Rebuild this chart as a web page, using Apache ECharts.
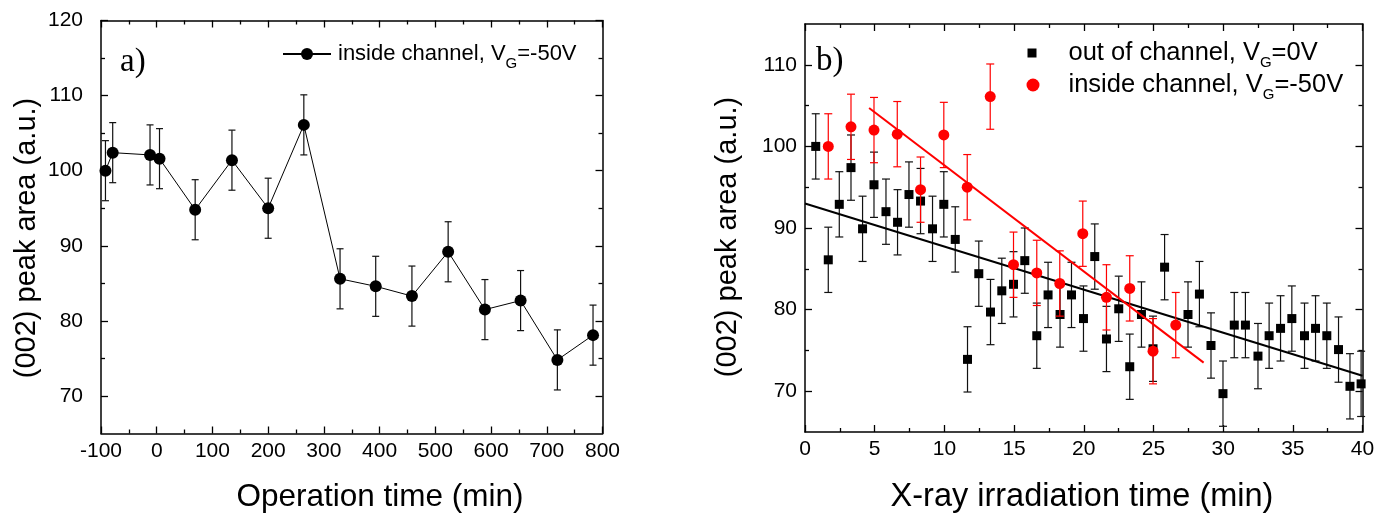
<!DOCTYPE html>
<html>
<head>
<meta charset="utf-8">
<script src="https://cdn.jsdelivr.net/npm/echarts@6/dist/echarts.min.js"></script>
<style>
html,body{margin:0;padding:0;background:#fff;}
#c{width:1393px;height:514px;}
</style>
</head>
<body>
<div id="c"></div>
<script>
// ---------- Panel a) data ----------
const opTime   = [-92, -79, -12, 5, 69, 135, 200, 264, 329, 393, 458, 523, 589, 653, 719, 783];
const insideA  = [100.0, 102.4, 102.1, 101.6, 94.8, 101.4, 95.0, 106.1, 85.6, 84.6, 83.3, 89.2, 81.5, 82.7, 74.8, 78.1];
const insideAErr = [4.0, 4.0, 4.0, 4.0, 4.0, 4.0, 4.0, 4.0, 4.0, 4.0, 4.0, 4.0, 4.0, 4.0, 4.0, 4.0];

// ---------- Panel b) data ----------
const outTime = [0.77, 1.67, 2.46, 3.30, 4.13, 4.95, 5.81, 6.64, 7.46, 8.29, 9.15, 9.96, 10.78, 11.66, 12.47,
  13.31, 14.12, 14.96, 15.77, 16.63, 17.44, 18.30, 19.12, 19.98, 20.79, 21.63, 22.51, 23.30, 24.14, 24.97,
  25.80, 27.48, 28.30, 29.13, 29.99, 30.80, 31.60, 32.50, 33.30, 34.12, 34.93, 35.84, 36.63, 37.44, 38.28, 39.10, 39.90];
const outVal = [100.0, 86.1, 92.9, 97.4, 89.9, 95.3, 92.0, 90.7, 94.1, 93.3, 89.9, 92.9, 88.6, 73.9, 84.4,
  79.7, 82.3, 83.1, 86.0, 76.8, 81.8, 79.4, 81.8, 78.9, 86.5, 76.4, 80.1, 73.0, 79.4, 75.2,
  85.2, 79.4, 81.9, 75.6, 69.7, 78.1, 78.1, 74.3, 76.8, 77.7, 78.9, 76.8, 77.7, 76.8, 75.1, 70.6, 70.9];
const outErr = [4, 4, 4, 4, 4, 4, 4, 4, 4, 4, 4, 4, 4, 4, 4, 4, 4, 4, 4, 4, 4, 4, 4, 4, 4, 4, 4, 4, 4, 4,
  4, 4, 4, 4, 4, 4, 4, 4, 4, 4, 4, 4, 4, 4, 4, 4, 4];
const inTime = [1.67, 3.30, 4.95, 6.62, 8.29, 9.96, 11.64, 13.29, 14.96, 16.63, 18.28, 19.93, 21.63, 23.30, 24.97, 26.60];
const inVal  = [100.0, 102.4, 102.0, 101.5, 94.7, 101.4, 95.0, 106.1, 85.5, 84.5, 83.2, 89.3, 81.5, 82.6, 74.9, 78.1];
const inErr  = [4, 4, 4, 4, 4, 4, 4, 4, 4, 4, 4, 4, 4, 4, 4, 4];

// linear fits (end points)
const fitOutX = [0, 40];
const fitOutY = [93.0, 71.9];
const fitInX  = [4.6, 28.6];
const fitInY  = [104.7, 73.5];

// tick labels
const yTicksA = [70, 80, 90, 100, 110, 120];
const yMinorA = [75, 85, 95, 105, 115];
const yTicksB = [70, 80, 90, 100, 110];
const yMinorB = [75, 85, 95, 105];

// ---------- helpers ----------
const FONT = 'Liberation Sans, Arial, sans-serif';
const zip2 = (a, b) => a.map((v, i) => [v, b[i]]);
const zip3 = (a, b, c) => a.map((v, i) => [v, b[i], c[i]]);

function errRender(color, cap) {
  return function (params, api) {
    const x = api.value(0), y = api.value(1), e = api.value(2);
    const t = api.coord([x, y + e]);
    const b = api.coord([x, y - e]);
    const st = { stroke: color, lineWidth: 1.2 };
    return {
      type: 'group',
      children: [
        { type: 'line', shape: { x1: t[0], y1: t[1], x2: b[0], y2: b[1] }, style: st },
        { type: 'line', shape: { x1: t[0] - cap, y1: t[1], x2: t[0] + cap, y2: t[1] }, style: st },
        { type: 'line', shape: { x1: b[0] - cap, y1: b[1], x2: b[0] + cap, y2: b[1] }, style: st }
      ]
    };
  };
}

const lineSt = { show: true, onZero: false, lineStyle: { color: '#000', width: 1.5 } };
function xAx(grid, pos, min, max, interval, labels) {
  return {
    type: 'value', gridIndex: grid, position: pos, min: min, max: max, interval: interval,
    axisLine: lineSt,
    axisTick: { show: true, inside: true, length: 7, lineStyle: { color: '#000', width: 1.3 } },
    minorTick: { show: true, splitNumber: 2, length: 4, lineStyle: { color: '#000', width: 1.3 } },
    axisLabel: { show: labels, color: '#000', fontSize: 21, fontFamily: FONT, margin: 7 },
    splitLine: { show: false }, minorSplitLine: { show: false }
  };
}
function yAx(grid, pos, min, max, ticks, major, labels, margin) {
  return {
    type: 'value', gridIndex: grid, position: pos, min: min, max: max,
    axisLine: major ? lineSt : { show: false, onZero: false },
    axisTick: { show: true, inside: true, length: major ? 7 : 4, customValues: ticks,
      lineStyle: { color: '#000', width: 1.3 } },
    axisLabel: { show: labels, customValues: ticks, color: '#000', fontSize: 21, fontFamily: FONT, margin: margin || 8 },
    splitLine: { show: false }
  };
}

const chart = echarts.init(document.getElementById('c'), null, { renderer: 'canvas' });

const rich = {
  s: { fontSize: 15, fontFamily: FONT, color: '#000', padding: [20, 0, 0, 0] }
};

const option = {
  backgroundColor: '#fff',
  animation: false,
  grid: [
    { left: 101, top: 20.5, width: 501.5, height: 413 },
    { left: 805, top: 24, width: 557.5, height: 408 }
  ],
  xAxis: [
    xAx(0, 'bottom', -100, 800, 100, true),
    xAx(0, 'top', -100, 800, 100, false),
    xAx(1, 'bottom', 0, 40, 5, true),
    xAx(1, 'top', 0, 40, 5, false)
  ],
  yAxis: [
    yAx(0, 'left', 65, 120, yTicksA, true, true, 18),
    yAx(0, 'right', 65, 120, yTicksA, true, false),
    yAx(0, 'left', 65, 120, yMinorA, false, false),
    yAx(0, 'right', 65, 120, yMinorA, false, false),
    yAx(1, 'left', 65, 115, yTicksB, true, true, 8),
    yAx(1, 'right', 65, 115, yTicksB, true, false),
    yAx(1, 'left', 65, 115, yMinorB, false, false),
    yAx(1, 'right', 65, 115, yMinorB, false, false)
  ],
  legend: [
    {
      data: ['insideA'], left: 282, top: 43, padding: 0, itemWidth: 48, itemHeight: 15, itemGap: 0,
      textStyle: { fontSize: 22, fontFamily: FONT, color: '#000', rich: rich, padding: [0, 0, 0, 2] },
      formatter: () => 'inside channel, V{s|G}=-50V'
    },
    {
      data: ['outB'], left: 1027.5, top: 40, padding: 0, itemWidth: 9, itemHeight: 9,
      textStyle: { fontSize: 25.5, fontFamily: FONT, color: '#000', rich: rich, padding: [0, 0, 0, 27] },
      formatter: () => 'out of channel, V{s|G}=0V'
    },
    {
      data: ['inB'], left: 1026.5, top: 72, padding: 0, itemWidth: 13, itemHeight: 13,
      textStyle: { fontSize: 25.5, fontFamily: FONT, color: '#000', rich: rich, padding: [0, 0, 0, 24] },
      formatter: () => 'inside channel, V{s|G}=-50V'
    }
  ],
  graphic: [
    { type: 'text', x: 120, y: 62, style: { text: 'a)', font: '33px "Liberation Serif", "Times New Roman", serif', fill: '#000', verticalAlign: 'middle' } },
    { type: 'text', x: 816, y: 61, style: { text: 'b)', font: '33px "Liberation Serif", "Times New Roman", serif', fill: '#000', verticalAlign: 'middle' } },
    { type: 'text', x: 380, y: 497, style: { text: 'Operation time (min)', font: '31.5px ' + FONT, fill: '#000', align: 'center', verticalAlign: 'middle' } },
    { type: 'text', x: 1082, y: 497, style: { text: 'X-ray irradiation time (min)', font: '32.5px ' + FONT, fill: '#000', align: 'center', verticalAlign: 'middle' } },
    { type: 'text', x: 27, y: 238, rotation: Math.PI / 2, style: { text: '(002) peak area (a.u.)', font: '29px ' + FONT, fill: '#000', align: 'center', verticalAlign: 'middle' } },
    { type: 'text', x: 728, y: 237, rotation: Math.PI / 2, style: { text: '(002) peak area (a.u.)', font: '29px ' + FONT, fill: '#000', align: 'center', verticalAlign: 'middle' } }
  ],
  series: [
    // panel a
    {
      type: 'custom', name: 'errA', xAxisIndex: 0, yAxisIndex: 0, z: 2,
      data: zip3(opTime, insideA, insideAErr), renderItem: errRender('#111', 3.5)
    },
    {
      type: 'line', name: 'insideA', xAxisIndex: 0, yAxisIndex: 0, z: 3,
      data: zip2(opTime, insideA), symbol: 'circle', symbolSize: 12,
      itemStyle: { color: '#000' }, lineStyle: { color: '#000', width: 1 }
    },
    // panel b
    {
      type: 'custom', name: 'errOut', xAxisIndex: 2, yAxisIndex: 4, z: 2,
      data: zip3(outTime, outVal, outErr), renderItem: errRender('#111', 4)
    },
    {
      type: 'line', name: 'fitOut', xAxisIndex: 2, yAxisIndex: 4, z: 3,
      data: zip2(fitOutX, fitOutY), symbol: 'none', lineStyle: { color: '#000', width: 2 }
    },
    {
      type: 'scatter', name: 'outB', xAxisIndex: 2, yAxisIndex: 4, z: 4,
      data: zip2(outTime, outVal), symbol: 'rect', symbolSize: 9, itemStyle: { color: '#000', opacity: 1 }
    },
    {
      type: 'custom', name: 'errIn', xAxisIndex: 2, yAxisIndex: 4, z: 5,
      data: zip3(inTime, inVal, inErr), renderItem: errRender('#ff0000', 4)
    },
    {
      type: 'line', name: 'fitIn', xAxisIndex: 2, yAxisIndex: 4, z: 6,
      data: zip2(fitInX, fitInY), symbol: 'none', lineStyle: { color: '#ff0000', width: 2 }
    },
    {
      type: 'scatter', name: 'inB', xAxisIndex: 2, yAxisIndex: 4, z: 7,
      data: zip2(inTime, inVal), symbol: 'circle', symbolSize: 11, itemStyle: { color: '#ff0000', opacity: 1 }
    }
  ]
};
chart.setOption(option);
</script>
</body>
</html>
